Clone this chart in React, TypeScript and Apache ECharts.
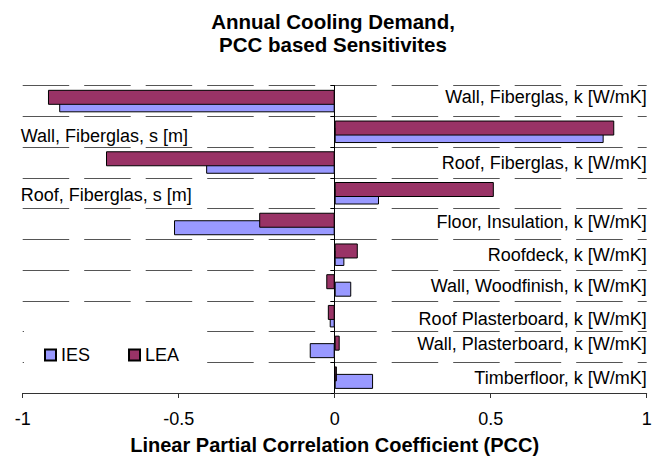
import React, { useEffect, useRef } from "react";
import * as echarts from "echarts";

const categories = [
  "Wall, Fiberglas, k [W/mK]",
  "Wall, Fiberglas, s [m]",
  "Roof, Fiberglas, k [W/mK]",
  "Roof, Fiberglas, s [m]",
  "Floor, Insulation, k [W/mK]",
  "Roofdeck, k [W/mK]",
  "Wall, Woodfinish, k [W/mK]",
  "Roof Plasterboard, k [W/mK]",
  "Wall, Plasterboard, k [W/mK]",
  "Timberfloor, k [W/mK]",
];
const iesValues = [-0.883, 0.862, -0.412, 0.142, -0.515, 0.031, 0.053, -0.016, -0.08, 0.123];
const leaValues = [-0.919, 0.896, -0.733, 0.51, -0.242, 0.074, -0.027, -0.022, 0.016, 0.007];
const labelOnLeft = [false, true, false, true, false, false, false, false, false, false];
const labelShift = [-4, 4, 0, 2, -2, 0, 1, 3, -3, 0];
const xTicks = { min: -1, max: 1, interval: 0.5 };

const FONT = "'Liberation Sans', Arial, sans-serif";

function richStyles() {
  const rich: Record<string, any> = {};
  labelShift.forEach((d, i) => {
    rich["s" + i] = {
      fontSize: 18,
      fontFamily: FONT,
      color: "#000",
      padding: d >= 0 ? [2 * d, 0, 0, 0] : [0, 0, -2 * d, 0],
    };
  });
  return rich;
}

export default function App() {
  const ref = useRef<HTMLDivElement>(null);
  useEffect(() => {
    if (!ref.current) return;
    const chart = echarts.init(ref.current, null, { renderer: "svg" });
    const rich = richStyles();
    chart.setOption({
      animation: false,
      backgroundColor: "#fff",
      textStyle: { fontFamily: FONT },
      title: {
        text: "Annual Cooling Demand,\nPCC based Sensitivites",
        left: "center",
        top: 5,
        textStyle: { fontSize: 20.5, fontWeight: "bold", color: "#000", lineHeight: 23, fontFamily: FONT },
      },
      legend: {
        data: ["IES", "LEA"],
        left: 24,
        top: 326,
        orient: "horizontal",
        backgroundColor: "#fff",
        padding: [20, 25, 4, 20],
        itemGap: 38,
        itemWidth: 11,
        itemHeight: 11,
        icon: "rect",
        selectedMode: false,
        textStyle: { fontSize: 18, color: "#000", fontFamily: FONT },
      },
      grid: {
        left: 22.7,
        right: 19.3,
        top: 85.7,
        bottom: 64,
        outerBoundsMode: "none",
      },
      xAxis: {
        type: "value",
        min: xTicks.min,
        max: xTicks.max,
        interval: xTicks.interval,
        axisLine: { show: true, lineStyle: { color: "#333", width: 1 } },
        axisTick: { show: true, length: 5, lineStyle: { color: "#333" } },
        axisLabel: { fontSize: 18, color: "#000", margin: 17, fontFamily: FONT },
        splitLine: { show: false },
        name: "Linear Partial Correlation Coefficient (PCC)",
        nameLocation: "middle",
        nameGap: 42,
        nameTextStyle: { fontSize: 20, fontWeight: "bold", color: "#000", fontFamily: FONT },
      },
      yAxis: [
        {
          type: "category",
          data: categories,
          inverse: true,
          axisLine: { show: true, onZero: true, lineStyle: { color: "#000", width: 1 } },
          axisTick: { show: true, length: 4, lineStyle: { color: "#000" } },
          axisLabel: { show: false },
          splitLine: { show: true, lineStyle: { color: "#555", width: 1, type: [46.5, 15] } },
        },
        {
          type: "category",
          data: categories,
          inverse: true,
          position: "left",
          axisLine: { show: false },
          axisTick: { show: false },
          splitLine: { show: false },
          axisLabel: {
            inside: true,
            interval: 0,
            margin: -2,
            hideOverlap: false,
            rich,
            formatter: (v: string, i: number) => (labelOnLeft[i] ? `{s${i}|${v}}` : ""),
          },
        },
        {
          type: "category",
          data: categories,
          inverse: true,
          position: "right",
          axisLine: { show: false },
          axisTick: { show: false },
          splitLine: { show: false },
          axisLabel: {
            inside: true,
            interval: 0,
            margin: 0,
            hideOverlap: false,
            rich,
            formatter: (v: string, i: number) => (!labelOnLeft[i] ? `{s${i}|${v}}` : ""),
          },
        },
      ],
      series: [
        {
          name: "LEA",
          type: "bar",
          yAxisIndex: 0,
          data: leaValues,
          barWidth: 15,
          barGap: "-50%",
          z: 3,
          itemStyle: { color: "#993366", borderColor: "#000", borderWidth: 1 },
        },
        {
          name: "IES",
          type: "bar",
          yAxisIndex: 0,
          data: iesValues,
          barWidth: 15,
          barGap: "-50%",
          z: 2,
          itemStyle: { color: "#9999FF", borderColor: "#000", borderWidth: 1 },
        },
      ],
    });
    return () => chart.dispose();
  }, []);
  return <div ref={ref} style={{ width: 666, height: 457, position: "absolute", left: 0, top: 0 }} />;
}
